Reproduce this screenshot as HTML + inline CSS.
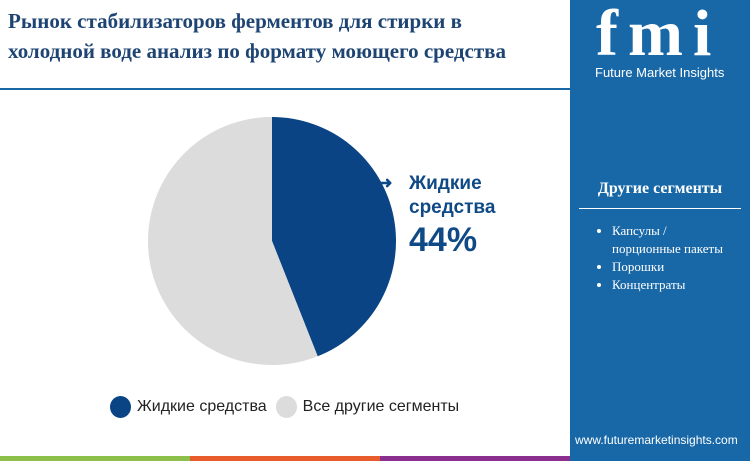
<!DOCTYPE html>
<html><head><meta charset="utf-8"><style>
body{margin:0;width:750px;height:461px;overflow:hidden;background:#fff;font-family:"Liberation Sans",sans-serif;position:relative}
.t{position:absolute;left:8px;top:6px;font:bold 21px/30px "Liberation Serif",serif;color:#1d4472}
.side{position:absolute;left:570px;top:0;width:180px;height:461px;background:#1868a8}
</style></head><body>
<div class="t">Рынок стабилизаторов ферментов для стирки в<br>холодной воде анализ по формату моющего средства</div>
<div style="position:absolute;left:0;top:88px;width:570px;height:2px;background:#1868a8"></div>
<svg id="pie" width="570" height="461" style="position:absolute;left:0;top:0"></svg>
<div style="position:absolute;left:383px;top:172px;color:#0f4a86;font-weight:bold;font-size:19px;line-height:24px">
<span style="position:absolute;left:-4px;top:0;font-size:16px">➜</span>
<div style="padding-left:26px">Жидкие<br>средства</div>
<div style="font-size:34px;line-height:40px;padding-left:26px">44%</div></div>
<div style="position:absolute;left:110px;top:396px;font-size:16px;color:#222;display:flex;align-items:center">
<span style="width:21px;height:22px;border-radius:50%;background:#0a4485;margin-right:6px"></span><span>Жидкие средства</span>
<span style="width:21px;height:22px;border-radius:50%;background:#dcdcdc;margin:0 6px 0 9px"></span><span>Все другие сегменты</span></div>
<div style="position:absolute;left:0;top:456px;width:570px;height:5px;display:flex"><div style="flex:1;background:#8cc04a"></div><div style="flex:1;background:#e85b2a"></div><div style="flex:1;background:#8a2f8d"></div></div>
<div class="side">
<div style="position:absolute;left:26px;top:2px;font:bold 66px/64px 'Liberation Serif',serif;color:#fff;letter-spacing:10px">fmi</div>
<div style="position:absolute;left:25px;top:65px;color:#fff;font-size:13px">Future Market Insights</div>
<div style="position:absolute;left:0;width:180px;text-align:center;top:180px;color:#fff;font:bold 16px 'Liberation Serif',serif">Другие сегменты</div>
<div style="position:absolute;left:9px;top:208px;width:162px;height:1px;background:#fff"></div>
<ul style="position:absolute;left:0;top:222px;margin:0;padding-left:42px;color:#fff;font:13px/18px 'Liberation Serif',serif">
<li>Капсулы /<br>порционные пакеты</li>
<li>Порошки</li>
<li>Концентраты</li></ul>
<div style="position:absolute;left:5px;top:433px;color:#fff;font-size:12px">www.futuremarketinsights.com</div>
</div>
<script>
const categories=["Жидкие средства","Все другие сегменты"];
const values=[44,56];
const colors=["#0a4485","#dcdcdc"];
const svg=document.getElementById('pie');
const cx=272,cy=241,r=124;
const total=values.reduce((a,b)=>a+b,0);
let a0=0;
values.forEach((v,i)=>{
 const a1=a0+v/total*2*Math.PI;
 const x0=cx+r*Math.sin(a0),y0=cy-r*Math.cos(a0),x1=cx+r*Math.sin(a1),y1=cy-r*Math.cos(a1);
 const p=document.createElementNS('http://www.w3.org/2000/svg','path');
 p.setAttribute('d',`M${cx},${cy}L${x0},${y0}A${r},${r} 0 ${a1-a0>Math.PI?1:0} 1 ${x1},${y1}Z`);
 p.setAttribute('fill',colors[i]);
 
 
 svg.appendChild(p);a0=a1;
});
</script>
</body></html>
